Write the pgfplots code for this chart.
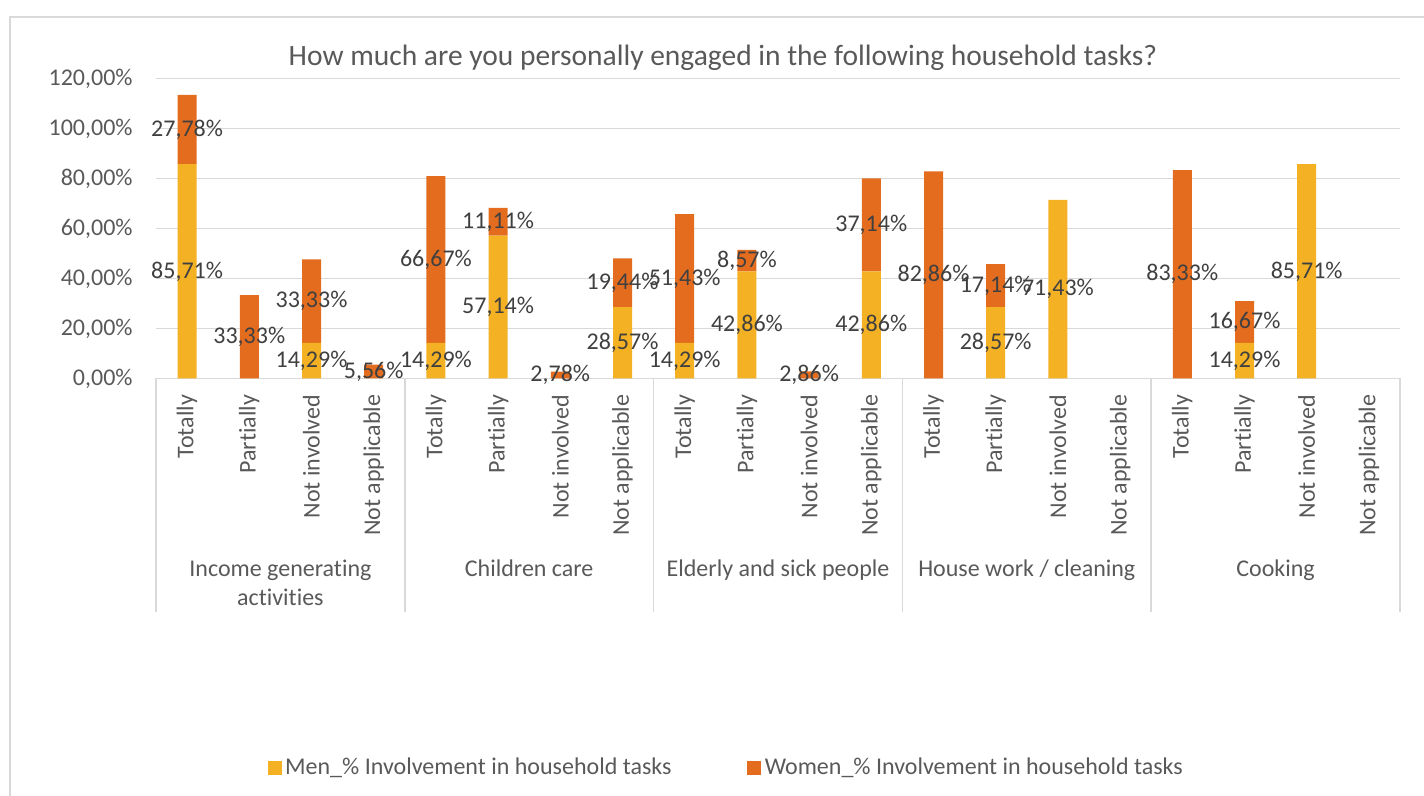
\documentclass[border=0pt]{standalone}
\usepackage{pgfplots}
\pgfplotsset{compat=1.18}
\usepackage{pgfplotstable}
\usepackage{fontspec}
\setmainfont[Ligatures=NoCommon]{Carlito}

\definecolor{menc}{HTML}{F3B123}
\definecolor{womenc}{HTML}{E46C1F}
\definecolor{gridc}{HTML}{D9D9D9}
\definecolor{txt}{HTML}{595959}
\definecolor{lbl}{HTML}{404040}

% share of respondents, in percent, per task and level of involvement
\pgfplotstableread{
x  men    women
0  85.71  27.78
1  0      33.33
2  14.29  33.33
3  0      5.56
4  14.29  66.67
5  57.14  11.11
6  0      2.78
7  28.57  19.44
8  14.29  51.43
9  42.86  8.57
10 0      2.86
11 42.86  37.14
12 0      82.86
13 28.57  17.14
14 71.43  0
15 0      0
16 0      83.33
17 14.29  16.67
18 85.71  0
19 0      0
}\tasks

% value label in the middle of its segment, none for zero
\pgfplotsset{
  seglabel/.style={
    point meta=explicit,
    nodes near coords={\pgfmathfloatifflags{\pgfplotspointmeta}{0}{}{\pgfmathprintnumber[fixed,fixed zerofill,precision=2,use comma]{\pgfplotspointmeta}\%}},
    every node near coord/.append style={anchor=center,
      font=\fontsize{12}{14}\selectfont, text=lbl, inner sep=0pt},
    legend image code/.code={\fill[##1] (0pt,-3.5pt) rectangle (7pt,3.5pt);}
  }
}

\begin{document}
\begin{tikzpicture}
\path[use as bounding box] (0pt,0pt) rectangle (712pt,398pt);
\draw[gridc, line width=0.75pt] (5pt,0pt) -- (5pt,389.5pt) -- (712pt,389.5pt);
\begin{axis}[
  at={(78pt,208.75pt)}, anchor=south west,
  scale only axis, width=622pt, height=150pt,
  ybar stacked, bar width=9.5pt,
  xmin=-0.5, xmax=19.5, ymin=0, ymax=120,
  clip=false,
  axis line style={draw=none},
  major tick length=0pt,
  ymajorgrids, grid style={gridc, line width=0.75pt},
  ytick={0,20,...,120},
  yticklabels={{0,00\%},{20,00\%},{40,00\%},{60,00\%},{80,00\%},{100,00\%},{120,00\%}},
  yticklabel style={font=\fontsize{12}{14}\selectfont, text=txt, anchor=east, inner sep=0pt, xshift=-11.5pt},
  xtick={0,...,19},
  xticklabels={Totally,Partially,Not involved,Not applicable,
               Totally,Partially,Not involved,Not applicable,
               Totally,Partially,Not involved,Not applicable,
               Totally,Partially,Not involved,Not applicable,
               Totally,Partially,Not involved,Not applicable},
  xticklabel style={font=\fontsize{12}{14}\selectfont, text=txt, rotate=90, anchor=east, inner sep=0pt},
  xticklabel shift=8pt,
  title={How much are you personally engaged in the following household tasks?},
  title style={at={(0.4558,1.002)}, anchor=base, font=\fontsize{14.75}{17}\selectfont, text=txt},
  legend style={at={(0.459,-1.297)}, anchor=center, draw=none, fill=none,
    legend columns=2, font=\fontsize{12}{14}\selectfont, text=txt,
    /tikz/every even column/.append style={column sep=36pt},
    nodes={inner sep=1.8pt}},
  /pgf/number format/assume math mode=true,
]
\addplot[fill=menc, draw=none, seglabel] table[x=x, y=men, meta=men] {\tasks};
\addlegendentry{Men\_\% Involvement in household tasks}
\addplot[fill=womenc, draw=none, seglabel] table[x=x, y=women, meta=women] {\tasks};
\addlegendentry{Women\_\% Involvement in household tasks}

% separators of the task groups
\pgfplotsinvokeforeach{-0.5,3.5,7.5,11.5,15.5,19.5}{
  \draw[gridc, line width=0.75pt] (axis cs:#1,0) -- ++(0pt,-117pt);
}
% task group names
\node[anchor=base, font=\fontsize{12}{14}\selectfont, text=txt, yshift=-99.25pt] at (axis cs:1.5,0) {Income generating};
\node[anchor=base, font=\fontsize{12}{14}\selectfont, text=txt, yshift=-113.75pt] at (axis cs:1.5,0) {activities};
\node[anchor=base, font=\fontsize{12}{14}\selectfont, text=txt, yshift=-99.25pt] at (axis cs:5.5,0) {Children care};
\node[anchor=base, font=\fontsize{12}{14}\selectfont, text=txt, yshift=-99.25pt] at (axis cs:9.5,0) {Elderly and sick people};
\node[anchor=base, font=\fontsize{12}{14}\selectfont, text=txt, yshift=-99.25pt] at (axis cs:13.5,0) {House work / cleaning};
\node[anchor=base, font=\fontsize{12}{14}\selectfont, text=txt, yshift=-99.25pt] at (axis cs:17.5,0) {Cooking};
\end{axis}
\end{tikzpicture}
\end{document}
